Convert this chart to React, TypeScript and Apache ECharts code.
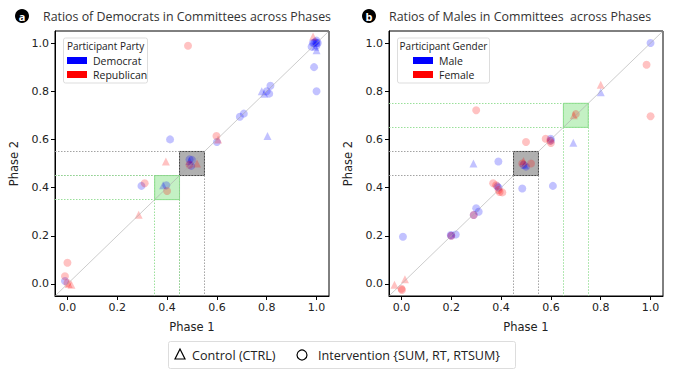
import React, { useEffect, useRef } from "react";
import * as echarts from "echarts";

// ---------- data ----------
const tickValues = [0, 0.2, 0.4, 0.6, 0.8, 1.0];
const axisMin = -0.05;
const axisMax = 1.05;

const titleA = "Ratios of Democrats in Committees across Phases";
const titleB = "Ratios of Males in Committees  across Phases";
const legendTitleA = "Participant Party";
const legendTitleB = "Participant Gender";
const groupNamesA = ["Democrat", "Republican"];
const groupNamesB = ["Male", "Female"];
const conditionNames = ["Control (CTRL)", "Intervention {SUM, RT, RTSUM}"];

// Panel a: Democrats (blue) / Republicans (red)
const demInterventionA = [
  [1.0, 1.0], [0.99, 1.0], [1.0, 0.99], [0.995, 1.005], [1.005, 1.0], [0.985, 1.0],
  [1.0, 1.01], [0.98, 0.985], [0.99, 0.9], [1.0, 0.8], [0.81, 0.79], [0.815, 0.823],
  [0.8, 0.8], [0.692, 0.694], [0.708, 0.707], [0.6, 0.589], [0.412, 0.6], [0.49, 0.517],
  [0.497, 0.49], [0.5, 0.515], [0.297, 0.407], [0.397, 0.41], [-0.01, 0.012],
];
const demControlA = [
  [1.0, 0.97], [0.995, 0.985], [0.78, 0.8], [0.79, 0.79], [0.803, 0.614], [0.49, 0.51], [0.384, 0.41],
];
const repInterventionA = [
  [0.484, 0.989], [0.598, 0.614], [0.49, 0.495], [0.31, 0.418], [0.4, 0.386],
  [0.0, 0.088], [-0.01, 0.032], [0.0, 0.004],
];
const repControlA = [
  [0.986, 1.027], [0.605, 0.6], [0.395, 0.508], [0.52, 0.5], [0.286, 0.287], [0.005, 0.0], [0.016, -0.003],
];

// Panel b: Males (blue) / Females (red)
const maleInterventionB = [
  [1.0, 1.0], [0.599, 0.603], [0.6, 0.595], [0.389, 0.508], [0.5, 0.487], [0.49, 0.495],
  [0.385, 0.405], [0.39, 0.4], [0.485, 0.396], [0.608, 0.407], [0.3, 0.314], [0.31, 0.3],
  [0.29, 0.286], [0.198, 0.203], [0.218, 0.205], [0.2, 0.2], [0.006, 0.196],
];
const maleControlB = [[0.8, 0.796], [0.69, 0.586], [0.289, 0.5], [0.495, 0.495]];
const femaleInterventionB = [
  [0.984, 0.91], [1.0, 0.696], [0.3, 0.721], [0.7, 0.705], [0.579, 0.603], [0.6, 0.585],
  [0.597, 0.594], [0.5, 0.589], [0.485, 0.5], [0.52, 0.5], [0.368, 0.418], [0.38, 0.41],
  [0.394, 0.382], [0.39, 0.39], [0.405, 0.38], [0.29, 0.286], [0.2, 0.2], [0.0, -0.02], [0.002, -0.025],
];
const femaleControlB = [[0.8, 0.827], [0.692, 0.7], [0.49, 0.51], [-0.028, -0.003], [0.014, 0.02]];

// highlighted ranges [low, high]
const grayBoxA = [0.45, 0.55];
const greenBoxA = [0.35, 0.45];
const grayBoxB = [0.45, 0.55];
const greenBoxB = [0.65, 0.75];

// ---------- styles ----------
const BLUE = "rgba(0,0,255,0.3)";
const RED = "rgba(255,0,0,0.3)";
const UI_FONT = "Open Sans";
const TICK_FONT = "DejaVu Sans";

function guideLines(box: number[], color: string) {
  const [a, b] = box;
  const ls = { color, width: 0.9, type: [1.5, 1.5] as any };
  return [
    [{ coord: [a, b], lineStyle: ls }, { coord: [a, axisMin] }],
    [{ coord: [b, b], lineStyle: ls }, { coord: [b, axisMin] }],
    [{ coord: [axisMin, a], lineStyle: ls }, { coord: [b, a] }],
    [{ coord: [axisMin, b], lineStyle: ls }, { coord: [b, b] }],
  ];
}

function overlaySeries(idx: number, gray: number[], green: number[]) {
  return {
    type: "scatter",
    xAxisIndex: idx,
    yAxisIndex: idx,
    data: [],
    silent: true,
    z: 1,
    markArea: {
      silent: true,
      data: [
        [
          { coord: [gray[0], gray[0]], itemStyle: { color: "rgba(80,80,80,0.45)", borderColor: "#444", borderWidth: 1 } },
          { coord: [gray[1], gray[1]] },
        ],
        [
          { coord: [green[0], green[0]], itemStyle: { color: "rgba(60,210,60,0.3)", borderColor: "rgba(60,200,60,0.5)", borderWidth: 1 } },
          { coord: [green[1], green[1]] },
        ],
      ],
    },
    markLine: {
      silent: true,
      symbol: "none",
      label: { show: false },
      data: [
        [
          { coord: [axisMin, axisMin], lineStyle: { color: "#aaa", width: 0.6, type: "solid" } },
          { coord: [axisMax, axisMax] },
        ],
        ...guideLines(gray, "#999"),
        ...guideLines(green, "#8fdc8f"),
      ],
    },
  };
}

function pointSeries(idx: number, data: number[][], color: string, symbol: string) {
  return {
    type: "scatter",
    xAxisIndex: idx,
    yAxisIndex: idx,
    data,
    symbol,
    symbolSize: 8,
    itemStyle: { color },
    z: 3,
  };
}

function xAxis(idx: number) {
  return {
    gridIndex: idx,
    type: "value",
    min: axisMin,
    max: axisMax,
    splitLine: { show: false },
    axisLine: { show: true, onZero: false, lineStyle: { color: "#000", width: 1 } },
    axisTick: { show: true, length: 4, customValues: tickValues, lineStyle: { color: "#000" } },
    axisLabel: {
      customValues: tickValues,
      formatter: (v: number) => v.toFixed(1),
      fontFamily: TICK_FONT,
      fontSize: 11,
      color: "#222",
      margin: 6,
    },
    name: "Phase 1",
    nameLocation: "middle",
    nameGap: 25,
    nameTextStyle: { fontFamily: TICK_FONT, fontSize: 11.5, color: "#222" },
  };
}

function yAxis(idx: number) {
  return {
    gridIndex: idx,
    type: "value",
    min: axisMin,
    max: axisMax,
    splitLine: { show: false },
    axisLine: { show: true, onZero: false, lineStyle: { color: "#000", width: 1 } },
    axisTick: { show: true, length: 4, customValues: tickValues, lineStyle: { color: "#000" } },
    axisLabel: {
      customValues: tickValues,
      formatter: (v: number) => v.toFixed(1),
      fontFamily: TICK_FONT,
      fontSize: 11,
      color: "#222",
      margin: 6,
    },
    name: "Phase 2",
    nameLocation: "middle",
    nameGap: 35,
    nameTextStyle: { fontFamily: TICK_FONT, fontSize: 11.5, color: "#222" },
  };
}

function panelGraphics(letter: string, title: string, cx: number, tx: number, legendX: number, legendW: number, legendTitle: string, names: string[], rectX: number, textX: number) {
  return [
    { type: "circle", shape: { cx, cy: 16, r: 7 }, style: { fill: "#000" } },
    {
      type: "text",
      x: cx,
      y: 16,
      style: { text: letter, fill: "#fff", font: `bold 11px ${UI_FONT}`, align: "center", verticalAlign: "middle" },
    },
    {
      type: "text",
      x: tx,
      y: 16,
      style: { text: title, fill: "#333", font: `12.4px ${UI_FONT}`, align: "left", verticalAlign: "middle" },
    },
    {
      type: "rect",
      shape: { x: legendX, y: 38, width: legendW, height: 45, r: 2 },
      style: { fill: "rgba(255,255,255,0.85)", stroke: "#ddd", lineWidth: 1 },
      z: 10,
    },
    {
      type: "text",
      x: legendX + legendW / 2,
      y: 46,
      z: 11,
      style: { text: legendTitle, fill: "#222", font: `10px ${UI_FONT}`, align: "center", verticalAlign: "middle" },
    },
    { type: "rect", shape: { x: rectX, y: 57, width: 20, height: 7 }, style: { fill: "#0000ff" }, z: 11 },
    { type: "rect", shape: { x: rectX, y: 71, width: 20, height: 7 }, style: { fill: "#ff0000" }, z: 11 },
    {
      type: "text", x: textX, y: 60.5, z: 11,
      style: { text: names[0], fill: "#222", font: `10.5px ${UI_FONT}`, align: "left", verticalAlign: "middle" },
    },
    {
      type: "text", x: textX, y: 74.5, z: 11,
      style: { text: names[1], fill: "#222", font: `10.5px ${UI_FONT}`, align: "left", verticalAlign: "middle" },
    },
  ];
}

const bottomLegend = [
  {
    type: "rect",
    shape: { x: 168.5, y: 341.5, width: 347, height: 27, r: 2 },
    style: { fill: "#fff", stroke: "#ddd", lineWidth: 1 },
  },
  {
    type: "polygon",
    shape: { points: [[180, 349], [175, 359], [185, 359]] },
    style: { fill: "none", stroke: "#000", lineWidth: 1.2 },
  },
  {
    type: "text", x: 192, y: 355,
    style: { text: conditionNames[0], fill: "#222", font: `12.6px ${UI_FONT}`, align: "left", verticalAlign: "middle" },
  },
  { type: "circle", shape: { cx: 302, cy: 355, r: 5 }, style: { fill: "none", stroke: "#000", lineWidth: 1.2 } },
  {
    type: "text", x: 318, y: 355,
    style: { text: conditionNames[1], fill: "#222", font: `12.6px ${UI_FONT}`, align: "left", verticalAlign: "middle" },
  },
];

const option = {
  animation: false,
  backgroundColor: "#fff",
  grid: [
    { left: 55, top: 31, width: 274, height: 265, show: true, borderColor: "#000", borderWidth: 1, backgroundColor: "transparent" },
    { left: 389, top: 31, width: 274, height: 265, show: true, borderColor: "#000", borderWidth: 1, backgroundColor: "transparent" },
  ],
  xAxis: [xAxis(0), xAxis(1)],
  yAxis: [yAxis(0), yAxis(1)],
  series: [
    overlaySeries(0, grayBoxA, greenBoxA),
    pointSeries(0, demInterventionA, BLUE, "circle"),
    pointSeries(0, demControlA, BLUE, "triangle"),
    pointSeries(0, repInterventionA, RED, "circle"),
    pointSeries(0, repControlA, RED, "triangle"),
    overlaySeries(1, grayBoxB, greenBoxB),
    pointSeries(1, maleInterventionB, BLUE, "circle"),
    pointSeries(1, maleControlB, BLUE, "triangle"),
    pointSeries(1, femaleInterventionB, RED, "circle"),
    pointSeries(1, femaleControlB, RED, "triangle"),
  ],
  graphic: [
    ...panelGraphics("a", titleA, 22, 43, 63.5, 84, legendTitleA, groupNamesA, 67, 93),
    ...panelGraphics("b", titleB, 369, 389, 397.5, 92, legendTitleB, groupNamesB, 413, 439),
    ...bottomLegend,
  ],
};

export default function App() {
  const ref = useRef<HTMLDivElement>(null);
  useEffect(() => {
    if (!ref.current) return;
    const chart = echarts.init(ref.current, null, { renderer: "svg" });
    chart.setOption(option as any);
    return () => chart.dispose();
  }, []);
  return <div ref={ref} style={{ position: "fixed", left: 0, top: 0, width: 673, height: 370 }} />;
}
